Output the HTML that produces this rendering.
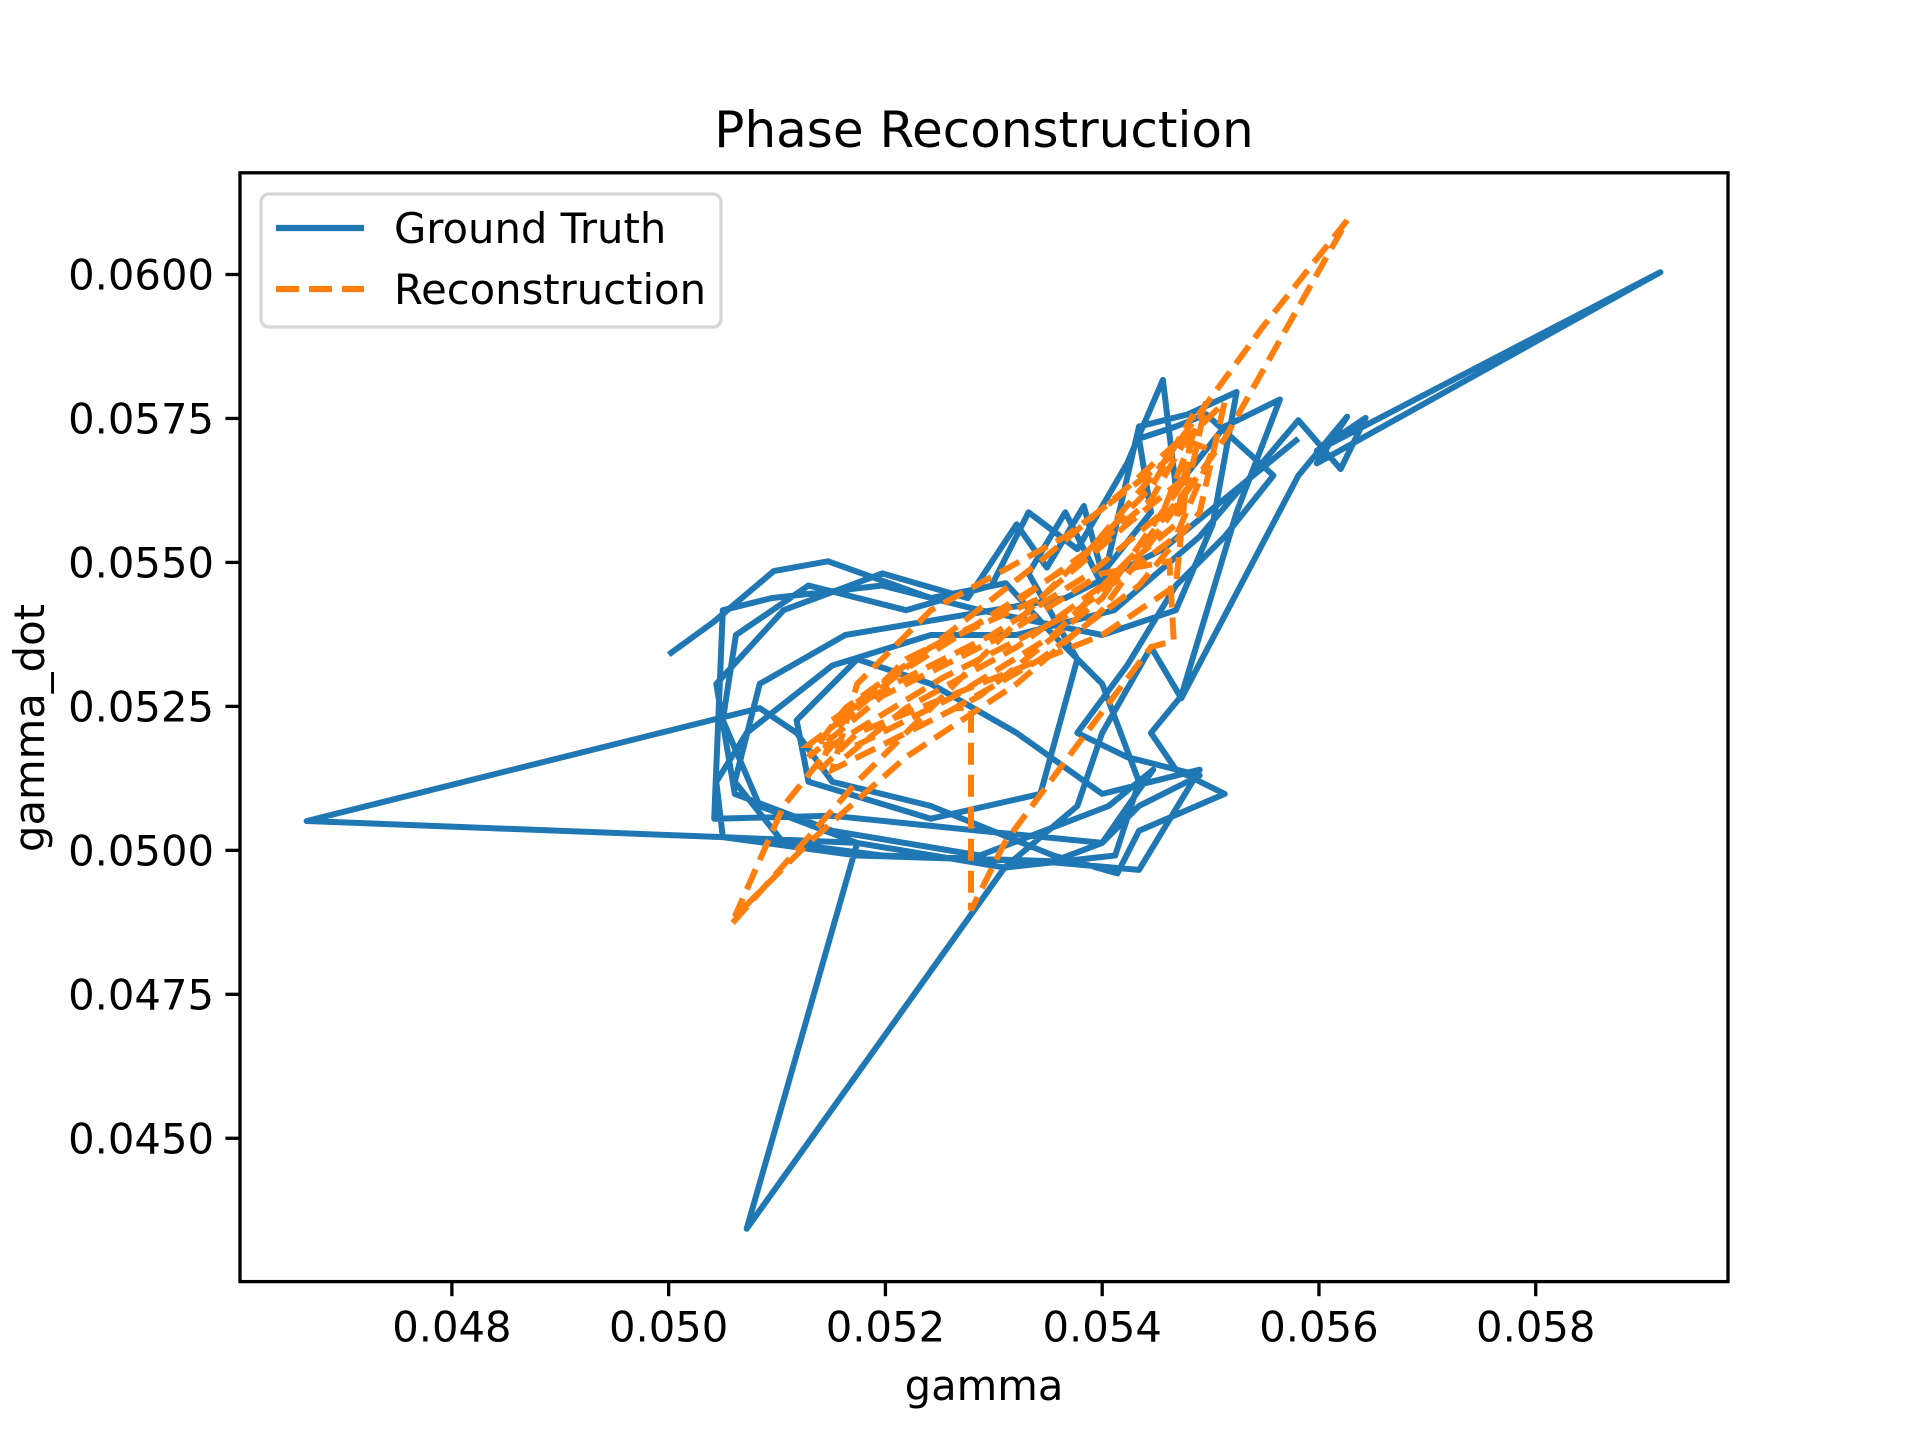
<!DOCTYPE html>
<html><head><meta charset="utf-8"><style>
html,body{margin:0;padding:0;background:#fff;}
svg{display:block;font-family:"DejaVu Sans","Liberation Sans",sans-serif;}
</style></head><body>
<svg id="chart" width="1920" height="1440" viewBox="0 0 1920 1440" xmlns="http://www.w3.org/2000/svg">
<rect width="1920" height="1440" fill="#fff"/>
<text x="984" y="147" font-size="50" text-anchor="middle">Phase Reconstruction</text>
<g id="plot"></g>
<g id="axes"></g>
<text x="984" y="1400" font-size="41.7" text-anchor="middle">gamma</text>
<text x="0" y="0" font-size="41.7" text-anchor="middle" transform="translate(44,728) rotate(-90)">gamma_dot</text>
<g>
<rect x="261" y="194" width="460" height="133" rx="8" fill="#fff" fill-opacity="0.8" stroke="#d6d6d6" stroke-width="3.3"/>
<line x1="276" y1="228" x2="364" y2="228" stroke="#1f77b4" stroke-width="6.25"/>
<text x="394" y="243" font-size="41.7">Ground Truth</text>
<line x1="276" y1="289" x2="364" y2="289" stroke="#ff7f0e" stroke-width="6.25" stroke-dasharray="23 10"/>
<text x="394" y="304" font-size="41.7">Reconstruction</text>
</g>
</svg>
<script>
const xTicks = [0.048, 0.050, 0.052, 0.054, 0.056, 0.058];
const xTickLabels = ["0.048","0.050","0.052","0.054","0.056","0.058"];
const yTicks = [0.0450, 0.0475, 0.0500, 0.0525, 0.0550, 0.0575, 0.0600];
const yTickLabels = ["0.0450","0.0475","0.0500","0.0525","0.0550","0.0575","0.0600"];
const truthGamma = [0.05000,0.05041,0.05097,0.05147,0.05242,0.05311,0.05355,0.05400,0.05434,0.05412,0.05310,0.05174,0.05084,0.05050,0.05062,0.05129,0.05219,0.05298,0.05332,0.05377,0.05423,0.05456,0.05468,0.05513,0.05564,0.05524,0.05473,0.05445,0.05468,0.05513,0.05434,0.05414,0.05355,0.05242,0.05151,0.05118,0.05084,0.04666,0.05050,0.05174,0.05072,0.05310,0.05377,0.05400,0.05445,0.05473,0.05581,0.05626,0.05598,0.05915,0.05598,0.05643,0.05620,0.05581,0.05490,0.05411,0.05321,0.05242,0.05151,0.05072,0.05044,0.05050,0.05174,0.05343,0.05434,0.05490,0.05400,0.05321,0.05242,0.05174,0.05118,0.05129,0.05242,0.05343,0.05377,0.05332,0.05366,0.05400,0.05434,0.05479,0.05524,0.05502,0.05468,0.05400,0.05287,0.05197,0.05095,0.05050,0.05042,0.05151,0.05287,0.05400,0.05447,0.05406,0.05287,0.05151,0.05061,0.05044,0.05106,0.05197,0.05276,0.05321,0.05349,0.05383,0.05400,0.05445,0.05434,0.05468,0.05496,0.05558,0.05513,0.05468,0.05423,0.05377,0.05423,0.05490,0.05434,0.05400,0.05355,0.05197,0.05106,0.05061,0.05084,0.05163,0.05264,0.05366,0.05456,0.05581];
const truthGammaDot = [0.05340,0.05396,0.05485,0.05502,0.05438,0.05464,0.05374,0.05289,0.05119,0.04991,0.04970,0.05013,0.05077,0.05226,0.05374,0.05460,0.05417,0.05460,0.05587,0.05523,0.05672,0.05817,0.05630,0.05736,0.05783,0.05587,0.05268,0.05204,0.05140,0.05098,0.05034,0.04960,0.04991,0.05077,0.05119,0.05204,0.05247,0.05051,0.05023,0.05013,0.04343,0.04970,0.05077,0.05204,0.05353,0.05264,0.05651,0.05753,0.05672,0.06004,0.05694,0.05751,0.05662,0.05747,0.05545,0.05417,0.05374,0.05374,0.05321,0.05204,0.05119,0.05023,0.04991,0.04981,0.04966,0.05140,0.05098,0.05204,0.05289,0.05332,0.05226,0.05119,0.05055,0.05098,0.05332,0.05481,0.05587,0.05460,0.05736,0.05757,0.05796,0.05566,0.05417,0.05374,0.05417,0.05460,0.05438,0.05417,0.05055,0.05060,0.05034,0.05013,0.05140,0.05077,0.04991,0.05034,0.05098,0.05289,0.05417,0.05481,0.05438,0.05566,0.05491,0.05598,0.05481,0.05587,0.05715,0.05736,0.05757,0.05651,0.05545,0.05460,0.05321,0.05204,0.05162,0.05130,0.05077,0.05013,0.04981,0.04991,0.05013,0.05119,0.05289,0.05374,0.05406,0.05438,0.05523,0.05715];
const reconGamma = [0.05059,0.05174,0.05242,0.05355,0.05445,0.05484,0.05468,0.05400,0.05287,0.05174,0.05140,0.05151,0.05219,0.05311,0.05389,0.05456,0.05513,0.05490,0.05434,0.05343,0.05264,0.05279,0.05279,0.05310,0.05377,0.05445,0.05466,0.05462,0.05400,0.05310,0.05197,0.05129,0.05163,0.05242,0.05343,0.05423,0.05473,0.05502,0.05468,0.05377,0.05253,0.05151,0.05106,0.05061,0.05129,0.05219,0.05321,0.05400,0.05513,0.05626,0.05547,0.05456,0.05366,0.05242,0.05174,0.05151,0.05197,0.05287,0.05400,0.05479,0.05423,0.05343,0.05242,0.05174,0.05129,0.05174,0.05264,0.05355,0.05434,0.05479,0.05496,0.05456,0.05389,0.05298,0.05208,0.05151,0.05197,0.05287,0.05377,0.05445,0.05484,0.05468,0.05400,0.05321,0.05219,0.05163];
const reconGammaDot = [0.04874,0.05119,0.05247,0.05460,0.05630,0.05757,0.05460,0.05374,0.05289,0.05204,0.05140,0.05204,0.05332,0.05417,0.05523,0.05672,0.05779,0.05587,0.05460,0.05332,0.05247,0.05247,0.04896,0.05013,0.05183,0.05353,0.05364,0.05502,0.05481,0.05374,0.05268,0.05162,0.05247,0.05353,0.05502,0.05630,0.05715,0.05694,0.05545,0.05417,0.05300,0.05183,0.05077,0.04885,0.05013,0.05162,0.05289,0.05417,0.05715,0.06094,0.05906,0.05672,0.05545,0.05417,0.05289,0.05140,0.05183,0.05268,0.05438,0.05651,0.05566,0.05438,0.05353,0.05247,0.05183,0.05183,0.05268,0.05374,0.05523,0.05630,0.05779,0.05587,0.05481,0.05374,0.05289,0.05226,0.05289,0.05396,0.05502,0.05609,0.05736,0.05566,0.05460,0.05353,0.05247,0.05162];

const L=240,R=1728,T=172.8,B=1281.6;
const xMin=0.046045,xMax=0.059774,yMin=0.042511,yMax=0.061766;
const sx=v=>L+(v-xMin)/(xMax-xMin)*(R-L);
const sy=v=>B-(v-yMin)/(yMax-yMin)*(B-T);
const NS="http://www.w3.org/2000/svg";
const plot=document.getElementById('plot');
const axes=document.getElementById('axes');
function mk(tag,attrs,parent){const e=document.createElementNS(NS,tag);for(const k in attrs)e.setAttribute(k,attrs[k]);parent.appendChild(e);return e;}

const cp=mk('clipPath',{id:'clip'},plot);
mk('rect',{x:L,y:T,width:R-L,height:B-T},cp);

function pts(xs,ys){return xs.map((v,i)=>sx(v).toFixed(1)+','+sy(ys[i]).toFixed(1)).join(' ');}
const truth=mk('polyline',{points:pts(truthGamma,truthGammaDot),fill:'none',stroke:'#1f77b4','stroke-width':6,'stroke-linejoin':'round','clip-path':'url(#clip)'},plot);


const recon=mk('polyline',{points:pts(reconGamma,reconGammaDot),fill:'none',stroke:'#ff7f0e','stroke-width':6,'stroke-dasharray':'22 10','clip-path':'url(#clip)'},plot);



const frame=mk('rect',{x:L,y:T,width:R-L,height:B-T,fill:'none',stroke:'#000','stroke-width':3.3},axes);



xTicks.forEach((v,i)=>{
  const x=sx(v);
  const t=mk('line',{x1:x,y1:B,x2:x,y2:B+14.6,stroke:'#000','stroke-width':3.3},axes);
  
  
  const lb=mk('text',{x:x,y:B+60,'font-size':41.7,'text-anchor':'middle'},axes);
  lb.textContent=xTickLabels[i];
  
  
});
yTicks.forEach((v,i)=>{
  const y=sy(v);
  const t=mk('line',{x1:L-14.6,y1:y,x2:L,y2:y,stroke:'#000','stroke-width':3.3},axes);
  
  
  const lb=mk('text',{x:L-26,y:y+15,'font-size':41.7,'text-anchor':'end'},axes);
  lb.textContent=yTickLabels[i];
  
  
});
</script>
</body></html>
